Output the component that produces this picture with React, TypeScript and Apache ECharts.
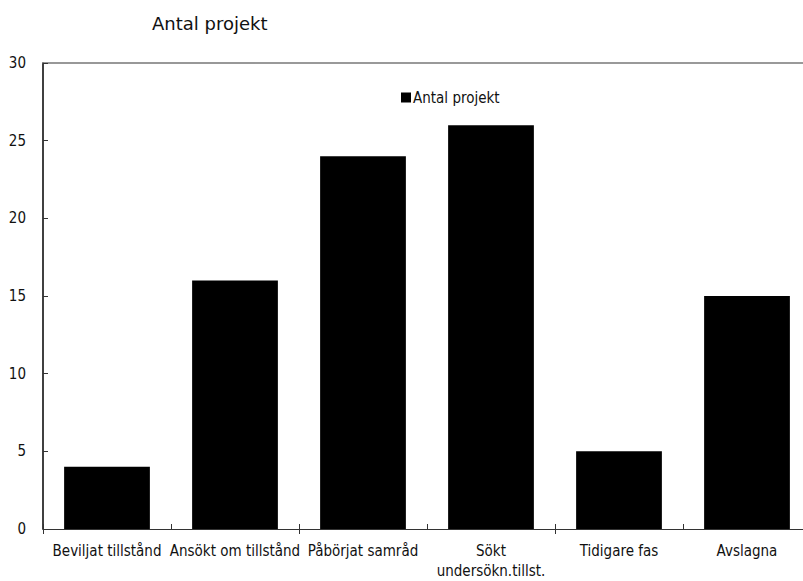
import React, { useEffect, useRef } from "react";
import * as echarts from "echarts";

const categories = [
  "Beviljat tillstånd",
  "Ansökt om tillstånd",
  "Påbörjat samråd",
  "Sökt\nundersökn.tillst.",
  "Tidigare fas",
  "Avslagna",
];
const values = [4, 16, 24, 26, 5, 15];
const seriesName = "Antal projekt";
const titleText = "Antal projekt";

const NARROW = "'DejaVu Sans Condensed', 'Liberation Sans Narrow', sans-serif";

export default function App() {
  const ref = useRef<HTMLDivElement>(null);
  useEffect(() => {
    if (!ref.current) return;
    const chart = echarts.init(ref.current, undefined, { renderer: "svg" });
    chart.setOption({
      animation: false,
      backgroundColor: "#fff",
      title: {
        text: titleText,
        left: 147,
        top: 9,
        textStyle: {
          fontFamily: "'DejaVu Sans', sans-serif",
          fontSize: 18,
          fontWeight: "normal",
          color: "#111",
        },
      },
      legend: {
        data: [seriesName],
        left: 396,
        top: 85,
        icon: "rect",
        itemWidth: 10,
        itemHeight: 10,
        itemGap: 4,
        textStyle: { fontFamily: NARROW, fontSize: 15, color: "#111", padding: [0, 0, 0, -3] },
      },
      grid: { left: 43, right: 0, top: 63, bottom: 51, containLabel: false },
      xAxis: [
        {
          type: "category",
          data: categories,
          position: "bottom",
          axisLine: { lineStyle: { color: "#333", width: 1 } },
          axisTick: { show: true, inside: true, length: 5, lineStyle: { color: "#333" } },
          axisLabel: {
            interval: 0,
            margin: 12,
            fontFamily: NARROW,
            fontSize: 15,
            color: "#111",
            lineHeight: 20,
          },
        },
        {
          type: "category",
          data: categories,
          position: "bottom",
          axisLine: { show: false },
          axisTick: { show: true, inside: false, length: 5, lineStyle: { color: "#333" } },
          axisLabel: { show: false },
        },
        {
          type: "category",
          data: categories,
          position: "top",
          axisLine: { show: true, lineStyle: { color: "#777", width: 1.5 } },
          axisTick: { show: false },
          axisLabel: { show: false },
        },
      ],
      yAxis: {
        type: "value",
        min: 0,
        max: 30,
        interval: 5,
        axisLine: { show: true, lineStyle: { color: "#000", width: 1.5 } },
        axisTick: { show: true, inside: true, length: 5, lineStyle: { color: "#333" } },
        splitLine: { show: false },
        axisLabel: { margin: 17, fontFamily: NARROW, fontSize: 15, color: "#111" },
      },
      series: [
        {
          name: seriesName,
          type: "bar",
          data: values,
          xAxisIndex: 0,
          barCategoryGap: "33%",
          itemStyle: { color: "#000" },
        },
      ],
    });
    return () => chart.dispose();
  }, []);
  return (
    <div
      ref={ref}
      style={{ position: "fixed", left: 0, top: 0, width: 811, height: 581 }}
    />
  );
}
